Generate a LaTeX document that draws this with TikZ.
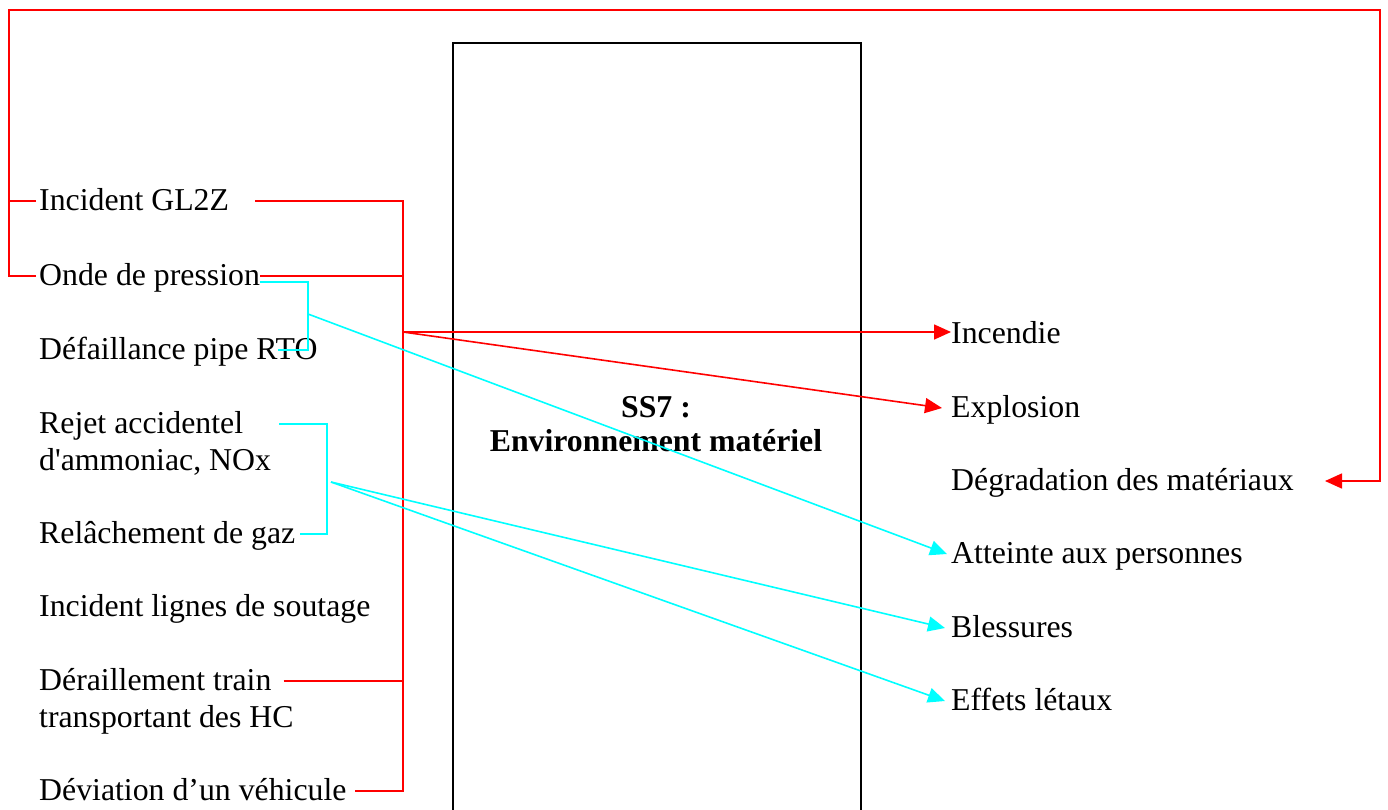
\documentclass[tikz,border=0pt]{standalone}
\usepackage{fontspec}
\setmainfont{Liberation Serif}
\usetikzlibrary{arrows.meta}
\definecolor{linkred}{RGB}{255,0,0}
\definecolor{linkcyan}{RGB}{0,255,255}
\begin{document}
\begin{tikzpicture}[x=1pt,y=-1pt,
  every node/.style={inner sep=0pt,font=\fontsize{31.8}{34}\selectfont},
  lbl/.style={anchor=base west,text height=24pt,text depth=6pt},
  redline/.style={draw=linkred,line width=1.6pt},
  cyanline/.style={draw=linkcyan,line width=1.6pt},
  tip/.style={-{Triangle[length=17pt,width=15pt]}},
  boxframe/.style={draw=black,line width=1.6pt,minimum width=408pt,minimum height=800pt,anchor=north west}
]
\useasboundingbox (0,0) rectangle (1388,809);

% central subsystem box
\node[boxframe] (ss7) at (452,42) {};
\node[anchor=north,align=center,font=\fontsize{31.8}{34}\selectfont\bfseries] (ss7title) at (656,396.5) {SS7 :\\Environnement matériel};

% causes (left column)
\node[lbl] (gl2z)     at (39,210) {Incident GL2Z};
\node[lbl] (onde)     at (39,285) {Onde de pression};
\node[lbl] (rto)      at (39,359) {Défaillance pipe RTO};
\node[lbl] (rejet)    at (39,433) {Rejet accidentel};
\node[lbl] (rejetb)   at (39,470) {d\textquotesingle ammoniac, NOx};
\node[lbl] (gaz)      at (39,543) {Relâchement de gaz};
\node[lbl] (soutage)  at (39,616) {Incident lignes de soutage};
\node[lbl] (derail)   at (39,690) {Déraillement train};
\node[lbl] (derailb)  at (39,727) {transportant des HC};
\node[lbl] (deviation) at (39,800) {Déviation d’un véhicule};

% consequences (right column)
\node[lbl] (incendie)  at (951,343) {Incendie};
\node[lbl] (explosion) at (951,417) {Explosion};
\node[lbl] (degrad)    at (951,490) {Dégradation des matériaux};
\node[lbl] (atteinte)  at (951,563) {Atteinte aux personnes};
\node[lbl] (blessures) at (951,637) {Blessures};
\node[lbl] (letaux)    at (951,710) {Effets létaux};

% routing points
\coordinate (busx) at (403,0);
\coordinate (hub) at (403,332);
\coordinate (tl) at (9,10);
\coordinate (tr) at (1380,10);
\coordinate (c1x) at (308,0);
\coordinate (c1mid) at (308,314);
\coordinate (c2x) at (327,0);
\coordinate (c2mid) at (331,482);
\coordinate (ondeout) at ([yshift=-6]onde.east);

% red bus collecting the causes
\draw[redline] ([xshift=26]gl2z.east) -- (busx |- gl2z.east)
  -- (busx |- deviation.east) -- ([xshift=8]deviation.east);
\draw[redline] (onde.east) -- (busx |- onde.east);
\draw[redline] ([xshift=12]derail.east) -- (busx |- derail.east);

% red effects
\draw[redline,tip] (hub) -- (hub -| incendie.west);
\draw[redline,tip] (hub) -- ([xshift=-9]explosion.west);

% feedback loop around the diagram
\draw[redline] ([xshift=-3]gl2z.west) -- (tl |- gl2z.west);
\draw[redline,tip] ([xshift=-3]onde.west) -- (tl |- onde.west) -- (tl) -- (tr)
  -- (tr |- degrad.west) -- ([xshift=31]degrad.east);

% cyan branches
\draw[cyanline] (ondeout) -- (c1x |- ondeout)
  -- (c1x |- rto.west) -- ([xshift=-40]rto.east);
\draw[cyanline,tip] (c1mid) -- ([xshift=-4]atteinte.west);

\draw[cyanline] ([xshift=36]rejet.east) -- (c2x |- rejet.east)
  -- (c2x |- gaz.east) -- ([xshift=5]gaz.east);
\draw[cyanline,tip] (c2mid) -- ([xshift=-6]blessures.west);
\draw[cyanline,tip] (c2mid) -- ([xshift=-6]letaux.west);
\end{tikzpicture}
\end{document}
